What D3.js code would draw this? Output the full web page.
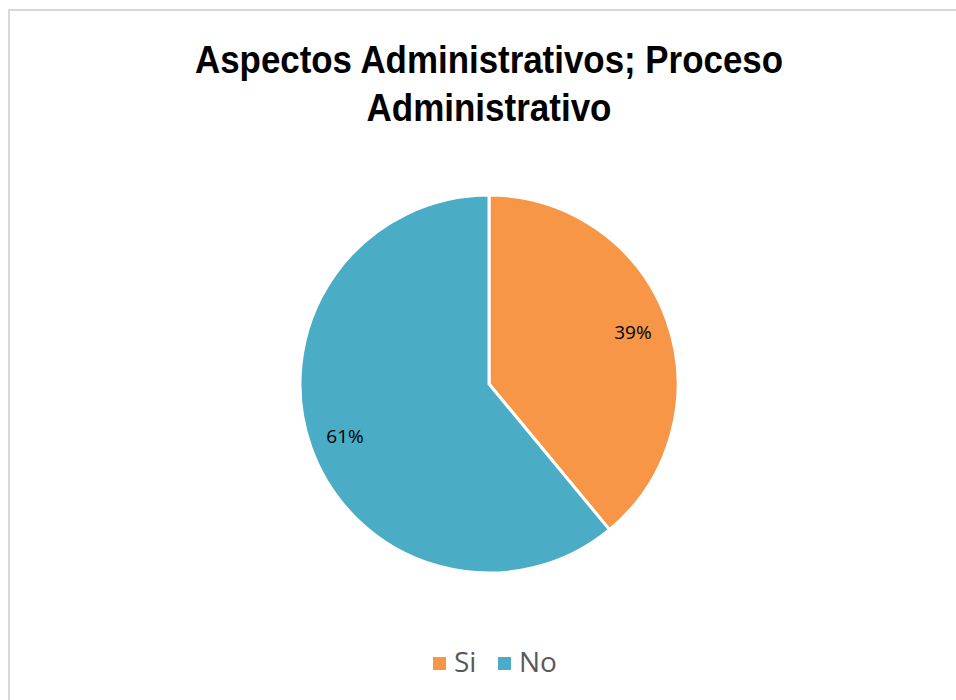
<!DOCTYPE html>
<html>
<head>
<meta charset="utf-8">
<script src="https://cdn.jsdelivr.net/npm/d3@7"></script>
<style>
  html, body { margin: 0; padding: 0; background: #fff; }
  svg { display: block; }
</style>
</head>
<body>
<svg id="chart" width="956" height="700"></svg>
<script>
const categories = ["Si", "No"];
const values = [39, 61];
const colors = ["#F79646", "#4BACC6"];
const titleLines = ["Aspectos Administrativos; Proceso", "Administrativo"];
const titleWidths = [588, 245];

const svg = d3.select("#chart");

// chart frame
svg.append("rect")
  .attr("x", 9).attr("y", 10)
  .attr("width", 960).attr("height", 700)
  .attr("fill", "#fff")
  .attr("stroke", "#d9d9d9").attr("stroke-width", 2);

// title (condensed bold)
const title = svg.append("g")
  .attr("font-family", "'Liberation Sans', Arial, sans-serif")
  .attr("font-weight", "bold")
  .attr("font-size", 38)
  .attr("fill", "#000");
titleLines.forEach((t, i) => {
  title.append("text")
    .attr("x", 489 - titleWidths[i] / 2)
    .attr("y", 73 + i * 48)
    .attr("textLength", titleWidths[i])
    .attr("lengthAdjust", "spacingAndGlyphs")
    .text(t);
});

// pie
const cx = 489, cy = 384, r = 189;
const pie = d3.pie().sort(null).value(d => d)(values);
const arc = d3.arc().innerRadius(0).outerRadius(r);
const labelArc = d3.arc().innerRadius(153).outerRadius(153);
const total = d3.sum(values);

const g = svg.append("g").attr("transform", `translate(${cx},${cy})`);
g.selectAll("path").data(pie).join("path")
  .attr("d", arc)
  .attr("fill", (d, i) => colors[i])
  .attr("stroke", "#fff").attr("stroke-width", 3)
  .attr("stroke-linejoin", "round");

g.selectAll("text.lbl").data(pie).join("text")
  .attr("class", "lbl")
  .attr("transform", d => `translate(${labelArc.centroid(d)})`)
  .attr("text-anchor", "middle")
  .attr("dominant-baseline", "central")
  .attr("font-family", "'Open Sans', 'Noto Sans', sans-serif")
  .attr("font-size", 19)
  .attr("fill", "#000")
  .text(d => Math.round(d.data / total * 100) + "%");

// legend
const legend = svg.append("g")
  .attr("font-family", "'Open Sans', 'Noto Sans', sans-serif")
  .attr("font-size", 28)
  .attr("fill", "#595959");
const legX = [433, 498];
categories.forEach((c, i) => {
  legend.append("rect")
    .attr("x", legX[i]).attr("y", 657)
    .attr("width", 13).attr("height", 13)
    .attr("fill", colors[i]);
  legend.append("text")
    .attr("x", legX[i] + 21).attr("y", 672)
    .text(c);
});
</script>
</body>
</html>
